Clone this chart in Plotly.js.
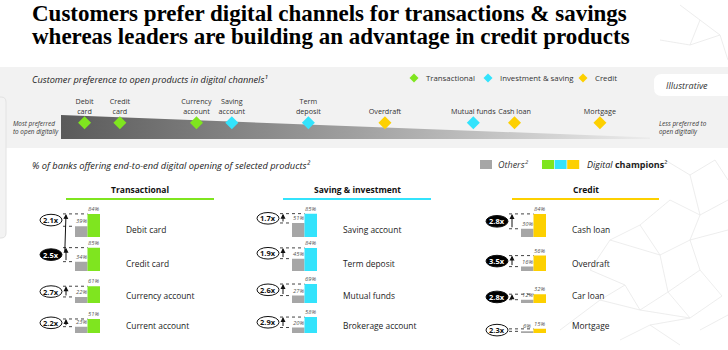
<!DOCTYPE html>
<html><head><meta charset="utf-8">
<script src="https://cdn.plot.ly/plotly-3.0.1.min.js"></script>
<style>html,body{margin:0;padding:0;background:#fff}#chart{width:728px;height:350px}</style>
</head><body><div id="chart"></div>
<script>
// ---------- DATA ----------
const topProducts = ['Debit<br>card','Credit<br>card','Currency<br>account','Saving<br>account','Term<br>deposit','Overdraft','Mutual funds','Cash loan','Mortgage'];
const topCategory = ['Transactional','Transactional','Transactional','Investment & saving','Investment & saving','Credit','Investment & saving','Credit','Credit'];
const topPreference = [4, 10, 23, 29, 42, 55, 70, 77, 91.5];

const groupNames = ['Transactional','Saving & investment','Credit'];
const products = [
  ['Debit card','Credit card','Currency account','Current account'],
  ['Saving account','Term deposit','Mutual funds','Brokerage account'],
  ['Cash loan','Overdraft','Car loan','Mortgage']
];
const othersPct = [[39,34,22,23],[51,45,27,20],[30,16,12,6]];
const championsPct = [[84,85,61,51],[85,84,69,58],[84,56,32,15]];
const multipliers = [['2.1x','2.5x','2.7x','2.2x'],['1.7x','1.9x','2.6x','2.9x'],['2.8x','3.5x','2.8x','2.3x']];
const highlighted = [[false,true,false,false],[false,false,false,false],[true,true,true,false]];

// ---------- STYLE / LAYOUT CONSTANTS ----------
const W = 728, H = 350;
const fx = p => p / W, fy = p => 1 - p / H;
const GRAY = '#a6a6a6';
const catColor = {'Transactional':'#7fe51f','Investment & saving':'#33e3fc','Credit':'#fdd000'};
const groupColor = ['#7fe51f','#33e3fc','#fdd000'];
const FONT = 'Open Sans, Liberation Sans, sans-serif';
const barEnd = [100, 317, 546];
const rowBase = [237, 271, 303, 333];
const pxPerPct = 0.275, pxPerUnit = 12.5, leftSpan = 62, yMin = -30, yMax = 110;

const traces = [], shapes = [], annotations = [];
const layout = {
  width: W, height: H, margin: {l:0,r:0,t:0,b:0},
  paper_bgcolor: '#ffffff', plot_bgcolor: 'rgba(0,0,0,0)',
  showlegend: false, font: {family: FONT, color: '#222'},
  shapes, annotations
};

function rr(x0,y0,x1,y1,r){
  const P=(x,y)=>fx(x)+','+fy(y);
  return 'M'+P(x0+r,y0)+' L'+P(x1-r,y0)+' Q'+P(x1,y0)+' '+P(x1,y0+r)+' L'+P(x1,y1-r)+' Q'+P(x1,y1)+' '+P(x1-r,y1)+
         ' L'+P(x0+r,y1)+' Q'+P(x0,y1)+' '+P(x0,y1-r)+' L'+P(x0,y0+r)+' Q'+P(x0,y0)+' '+P(x0+r,y0)+' Z';
}
function diamond(cx,cy,h){
  return 'M'+fx(cx)+','+fy(cy-h)+' L'+fx(cx+h)+','+fy(cy)+' L'+fx(cx)+','+fy(cy+h)+' L'+fx(cx-h)+','+fy(cy)+' Z';
}
function poly(pts){
  return pts.map((p,i)=>(i?'L':'M')+fx(p[0])+','+fy(p[1])).join(' ');
}
function txt(x,y,text,opt){
  annotations.push(Object.assign({xref:'paper',yref:'paper',x:fx(x),y:fy(y),text,showarrow:false,
    xanchor:'left',yanchor:'middle',font:{family:FONT,size:8.5,color:'#222'}},opt||{}));
}

// ---------- BACKGROUND ELEMENTS ----------
const net = [
  [[600,300],[625,285],[640,310],[600,300]],[[640,310],[668,292],[690,318],[640,310]],[[668,292],[700,270],[722,296],[690,318]],
  [[700,270],[690,240],[728,230]],[[690,240],[660,255],[668,292]],[[610,240],[640,225],[660,255],[610,240]],
  [[620,340],[650,325],[680,345]],[[650,325],[690,318]],[[700,330],[728,315]],[[560,330],[600,300]],
  [[640,225],[670,200],[700,215],[690,240]],[[700,215],[728,200]],[[590,270],[610,240]],[[590,270],[625,285]],
  [[680,5],[700,20],[690,45],[720,35],[700,20]],[[720,35],[728,60]],[[660,40],[690,45]],[[700,120],[728,110]],
  [[665,160],[690,175],[715,160],[728,180]],[[690,175],[700,215]]
];
net.forEach(p=>shapes.push({type:'path',xref:'paper',yref:'paper',path:poly(p),line:{color:'#e9e9e9',width:0.8},layer:'below'}));

shapes.push({type:'rect',xref:'paper',yref:'paper',x0:0,x1:1,y0:fy(148),y1:fy(67),fillcolor:'#f2f2f2',line:{width:0},layer:'below'});
shapes.push({type:'path',xref:'paper',yref:'paper',path:rr(-12,97,6,238,5),fillcolor:'#f3f3f3',line:{color:'#e2e2e2',width:1},layer:'below'});
shapes.push({type:'path',xref:'paper',yref:'paper',path:rr(654,74,740,96,8),fillcolor:'#ffffff',line:{width:0},layer:'below'});
txt(664,85,'<i>Illustrative</i>',{font:{family:FONT,size:9,color:'#333'}});

// title
txt(30,13,'<b>Customers prefer digital channels for transactions &amp; savings</b>',{font:{family:'Liberation Serif, serif',size:23,color:'#000'}});
txt(30,36.5,'<b>whereas leaders are building an advantage in credit products</b>',{font:{family:'Liberation Serif, serif',size:23,color:'#000'}});

// top section
txt(30,79,'<i>Customer preference to open products in digital channels¹</i>',{font:{family:FONT,size:9.2,color:'#222'}});
const legendItems = [['Transactional',414],['Investment & saving',488],['Credit',583]];
legendItems.forEach(([name,x])=>{
  shapes.push({type:'path',xref:'paper',yref:'paper',path:diamond(x,78,4.5),fillcolor:catColor[name],line:{width:0}});
  txt(x+10,78,name,{font:{family:FONT,size:7.8,color:'#333'}});
});
txt(11,127,'<i>Most preferred<br>to open digitally</i>',{font:{family:FONT,size:6.4,color:'#333'},align:'left'});
txt(657,127,'<i>Less preferred to<br>open digitally</i>',{font:{family:FONT,size:6.4,color:'#333'},align:'left'});

layout.xaxis13 = {domain:[fx(61),fx(650)],range:[0,100],visible:false,fixedrange:true,anchor:'y13'};
layout.yaxis13 = {domain:[fy(139),fy(115)],range:[0,1],visible:false,fixedrange:true,anchor:'x13'};
traces.push({type:'scatter',x:[0,0,100,100],y:[0,1,0.06,0],xaxis:'x13',yaxis:'y13',mode:'lines',fill:'toself',
  line:{width:0},fillgradient:{type:'horizontal',colorscale:[[0,'#5a5a5a'],[0.5,'#a0a0a0'],[1,'#ececec']]},hoverinfo:'skip'});
traces.push({type:'scatter',x:topPreference,y:topPreference.map(()=>0.68),xaxis:'x13',yaxis:'y13',mode:'markers+text',
  marker:{symbol:'diamond',size:10,color:topCategory.map(c=>catColor[c]),line:{width:0}},
  text:topProducts,textposition:'top center',textfont:{family:FONT,size:7.2,color:'#333'},cliponaxis:false,hoverinfo:'skip'});

// second section header + legend
txt(30,165,'<i>% of banks offering end-to-end digital opening of selected products²</i>',{font:{family:FONT,size:9.3,color:'#222'}});
shapes.push({type:'rect',xref:'paper',yref:'paper',x0:fx(480),x1:fx(492),y0:fy(169),y1:fy(160),fillcolor:GRAY,line:{width:0}});
txt(496,164.5,'<i>Others²</i>',{font:{family:FONT,size:9,color:'#333'}});
groupColor.forEach((c,i)=>{
  shapes.push({type:'rect',xref:'paper',yref:'paper',x0:fx(542+i*12.6),x1:fx(554+i*12.6),y0:fy(169),y1:fy(160),fillcolor:c,line:{width:0}});
});
txt(585,164.5,'<i>Digital</i> <b>champions</b>²',{font:{family:FONT,size:9,color:'#222'}});

const headerSpan = [[66,214],[283,431],[512,659]];
groupNames.forEach((g,gi)=>{
  const [a,b] = headerSpan[gi];
  txt((a+b)/2,190,'<b>'+g+'</b>',{xanchor:'center',font:{family:FONT,size:8.5,color:'#111'}});
  shapes.push({type:'line',xref:'paper',yref:'paper',x0:fx(a),x1:fx(b),y0:fy(199),y1:fy(199),line:{color:groupColor[gi],width:2}});
});

// ---------- SMALL BAR CHARTS ----------
groupNames.forEach((g,gi)=>{
  products[gi].forEach((p,ri)=>{
    const idx = gi*4+ri+1;
    const xa = 'x'+idx, ya = 'y'+idx;
    const E = barEnd[gi], B = rowBase[ri];
    const o = othersPct[gi][ri], c = championsPct[gi][ri];
    layout['xaxis'+idx] = {domain:[fx(E-leftSpan),fx(E)],range:[1.5-leftSpan/pxPerUnit,1.5],visible:false,fixedrange:true,anchor:ya};
    layout['yaxis'+idx] = {domain:[fy(B - yMin*pxPerPct),fy(B - yMax*pxPerPct)],range:[yMin,yMax],visible:false,fixedrange:true,anchor:xa};
    traces.push({type:'bar',x:[0,1],y:[o,c],width:[1,1],xaxis:xa,yaxis:ya,
      marker:{color:[GRAY,groupColor[gi]],line:{width:0}},hoverinfo:'skip'});
    const xLine = 1.5-37/pxPerUnit, xArrow = 1.5-34/pxPerUnit, xBadge = 1.5-49/pxPerUnit;
    shapes.push({type:'line',xref:xa,yref:ya,x0:xLine,x1:0.5,y0:c,y1:c,line:{color:'#444',width:1,dash:'dot'}});
    shapes.push({type:'line',xref:xa,yref:ya,x0:xLine,x1:-0.5,y0:o,y1:o,line:{color:'#444',width:1,dash:'dot'}});
    annotations.push({xref:xa,yref:ya,axref:xa,ayref:ya,x:xArrow,y:c,ax:xArrow,ay:o,text:'',showarrow:true,
      arrowhead:2,arrowsize:1,arrowwidth:1,arrowcolor:'#111',standoff:0,startstandoff:0});
    annotations.push({xref:xa,yref:ya,x:0,y:o,text:'<i>'+o+'%</i>',showarrow:false,yanchor:'bottom',yshift:-1,font:{family:FONT,size:5.8,color:'#555'}});
    annotations.push({xref:xa,yref:ya,x:1,y:c,text:'<i>'+c+'%</i>',showarrow:false,yanchor:'bottom',yshift:-1,font:{family:FONT,size:5.8,color:'#555'}});
    const hl = highlighted[gi][ri];
    shapes.push({type:'circle',xref:xa,yref:ya,xsizemode:'pixel',ysizemode:'pixel',xanchor:xBadge,yanchor:(o+c)/2,
      x0:-11,x1:11,y0:-5.8,y1:5.8,fillcolor:hl?'#000':'#fff',line:{color:'#111',width:1}});
    annotations.push({xref:xa,yref:ya,x:xBadge,y:(o+c)/2,text:'<b>'+multipliers[gi][ri]+'</b>',showarrow:false,
      font:{family:FONT,size:7.5,color:hl?'#fff':'#111'}});
    txt(E+24,B-8,p,{font:{family:FONT,size:8.4,color:'#222'}});
  });
});

Plotly.newPlot('chart', traces, layout, {staticPlot:true, displayModeBar:false});
</script></body></html>
